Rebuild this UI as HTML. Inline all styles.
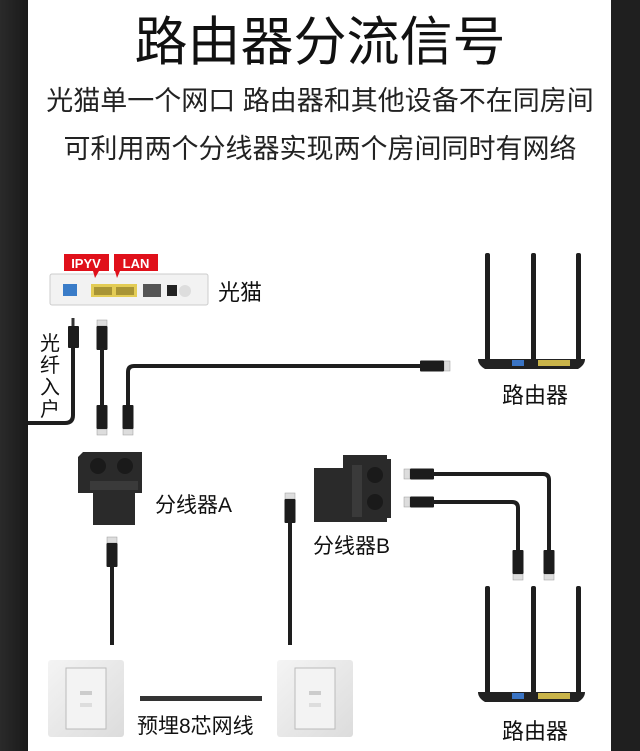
<!DOCTYPE html>
<html><head><meta charset="utf-8"><style>
html,body{margin:0;padding:0;background:#fff}
body{width:640px;height:751px;overflow:hidden;position:relative;font-family:"Liberation Sans","Noto Sans CJK SC",sans-serif}
</style></head><body>
<svg width="640" height="751" viewBox="0 0 640 751" xmlns="http://www.w3.org/2000/svg" style="position:absolute;left:0;top:0">
<defs>
<linearGradient id="sideL" x1="0" x2="1"><stop offset="0" stop-color="#2a2a2a"/><stop offset="1" stop-color="#1a1a1a"/></linearGradient>
<linearGradient id="plate" x1="0" x2="1" y1="0" y2="1"><stop offset="0" stop-color="#f4f4f4"/><stop offset="1" stop-color="#dcdcdc"/></linearGradient>
<g id="conV"><rect x="-5" y="0" width="10" height="6" fill="#ddd" stroke="#999" stroke-width="0.5"/><rect x="-5.5" y="6" width="11" height="24" rx="1" fill="#1c1c1c"/></g>
<g id="router">
<rect x="7" y="0" width="5" height="108" rx="2" fill="#1e1e1e"/>
<rect x="53" y="0" width="5" height="108" rx="2" fill="#1e1e1e"/>
<rect x="98" y="0" width="5" height="108" rx="2" fill="#1e1e1e"/>
<path d="M0,106 L107,106 Q107,112 100,116 L7,116 Q0,112 0,106Z" fill="#222"/>
<rect x="34" y="107" width="12" height="6" fill="#3a74c4"/>
<rect x="60" y="107" width="32" height="6" fill="#c9b44a"/>
</g>
</defs>
<rect x="0" y="0" width="28" height="751" fill="url(#sideL)"/>
<rect x="611" y="0" width="29" height="751" fill="#1f1f1f"/>

<g font-family="'Liberation Sans','Noto Sans CJK SC',sans-serif" fill="#111" text-anchor="middle">
<text x="320" y="60" font-size="53">路由器分流信号</text>
<text x="320" y="110" font-size="27" fill="#222">光猫单一个网口 路由器和其他设备不在同房间</text>
<text x="320" y="158" font-size="27" fill="#222">可利用两个分线器实现两个房间同时有网络</text>
</g>

<!-- modem -->
<rect x="50" y="274" width="158" height="31" rx="2" fill="#f2f2f2" stroke="#ccc"/>
<rect x="63" y="284" width="14" height="12" fill="#3a7cc8"/>
<rect x="91" y="284" width="46" height="13" fill="#e3cc55"/>
<rect x="94" y="287" width="18" height="8" fill="#a89435"/><rect x="116" y="287" width="18" height="8" fill="#a89435"/>
<rect x="143" y="284" width="18" height="13" fill="#555"/>
<rect x="167" y="285" width="10" height="11" fill="#222"/>
<circle cx="185" cy="291" r="6" fill="#ddd"/>
<path d="M64,254 h45 v17 h-10 l-4,7 l-2,-7 h-29z" fill="#e0101a"/>
<path d="M114,254 h44 v17 h-38 l-3,7 l-2,-7 h-1z" fill="#e0101a"/>
<text x="86" y="268" font-size="13" fill="#fff" font-weight="bold" text-anchor="middle" font-family="'Liberation Sans',sans-serif">IPYV</text>
<text x="136" y="268" font-size="13" fill="#fff" font-weight="bold" text-anchor="middle" font-family="'Liberation Sans',sans-serif">LAN</text>
<text x="218" y="300" font-size="22" fill="#111" font-family="'Liberation Sans','Noto Sans CJK SC',sans-serif">光猫</text>

<!-- fiber -->
<path d="M73,345 V415 Q73,423 65,423 H28" fill="none" stroke="#1e1e1e" stroke-width="4"/>
<rect x="71.5" y="318" width="3" height="8" fill="#333"/>
<rect x="68" y="326" width="11" height="22" rx="1" fill="#1c1c1c"/>
<g font-size="20" fill="#111" font-family="'Liberation Sans','Noto Sans CJK SC',sans-serif" text-anchor="middle">
<text x="50" y="350">光</text><text x="50" y="372">纤</text><text x="50" y="394">入</text><text x="50" y="416">户</text></g>

<!-- cable 1 -->
<use href="#conV" transform="translate(102,320)"/>
<line x1="102" y1="348" x2="102" y2="405" stroke="#1e1e1e" stroke-width="4"/>
<use href="#conV" transform="translate(102,435) scale(1,-1)"/>
<!-- cable 2 -->
<path d="M128,405 V372 Q128,366 134,366 H425" fill="none" stroke="#1e1e1e" stroke-width="4"/>
<use href="#conV" transform="translate(128,435) scale(1,-1)"/>
<use href="#conV" transform="translate(450,366) rotate(90)"/>

<use href="#router" transform="translate(478,253)"/>
<text x="535" y="403" font-size="22" fill="#111" text-anchor="middle" font-family="'Liberation Sans','Noto Sans CJK SC',sans-serif">路由器</text>

<!-- splitter A -->
<path d="M83,452 H142 V493 H135 V525 H93 V493 H78 V457Z" fill="#2a2a2a"/>
<circle cx="98" cy="466" r="8" fill="#1a1a1a"/><circle cx="125" cy="466" r="8" fill="#1a1a1a"/>
<rect x="90" y="481" width="48" height="9" fill="#3a3a3a"/>
<text x="155" y="512" font-size="21" fill="#111" font-family="'Liberation Sans','Noto Sans CJK SC',sans-serif">分线器A</text>
<use href="#conV" transform="translate(112,537)"/>
<line x1="112" y1="565" x2="112" y2="645" stroke="#1e1e1e" stroke-width="4"/>

<!-- wall plates -->
<rect x="48" y="660" width="76" height="77" rx="3" fill="url(#plate)"/>
<rect x="66" y="668" width="40" height="61" fill="#f3f3f3" stroke="#bbb"/>
<rect x="80" y="691" width="12" height="4" fill="#ccc"/><rect x="80" y="703" width="12" height="4" fill="#ddd"/>
<rect x="277" y="660" width="76" height="77" rx="3" fill="url(#plate)"/>
<rect x="295" y="668" width="40" height="61" fill="#f3f3f3" stroke="#bbb"/>
<rect x="309" y="691" width="12" height="4" fill="#ccc"/><rect x="309" y="703" width="12" height="4" fill="#ddd"/>
<rect x="140" y="696" width="122" height="5" fill="#333"/>
<text x="137" y="733" font-size="21" fill="#111" font-family="'Liberation Sans','Noto Sans CJK SC',sans-serif">预埋8芯网线</text>

<!-- cable to splitter B side -->
<use href="#conV" transform="translate(290,493)"/>
<line x1="290" y1="520" x2="290" y2="645" stroke="#1e1e1e" stroke-width="4"/>

<!-- splitter B -->
<path d="M314,468 H343 V455 H387 V459 H391 V518 H387 V522 H314Z" fill="#2a2a2a"/>
<circle cx="375" cy="475" r="8" fill="#1a1a1a"/><circle cx="375" cy="502" r="8" fill="#1a1a1a"/>
<rect x="352" y="465" width="10" height="52" fill="#3a3a3a"/>
<text x="313" y="553" font-size="21" fill="#111" font-family="'Liberation Sans','Noto Sans CJK SC',sans-serif">分线器B</text>
<!-- cables from B -->
<use href="#conV" transform="translate(404,474) rotate(-90)"/>
<use href="#conV" transform="translate(404,502) rotate(-90)"/>
<path d="M432,474 H543 Q549,474 549,480 V550" fill="none" stroke="#1e1e1e" stroke-width="4"/>
<path d="M432,502 H512 Q518,502 518,508 V550" fill="none" stroke="#1e1e1e" stroke-width="4"/>
<use href="#conV" transform="translate(549,580) scale(1,-1)"/>
<use href="#conV" transform="translate(518,580) scale(1,-1)"/>

<use href="#router" transform="translate(478,586)"/>
<text x="535" y="739" font-size="22" fill="#111" text-anchor="middle" font-family="'Liberation Sans','Noto Sans CJK SC',sans-serif">路由器</text>
</svg>
</body></html>
